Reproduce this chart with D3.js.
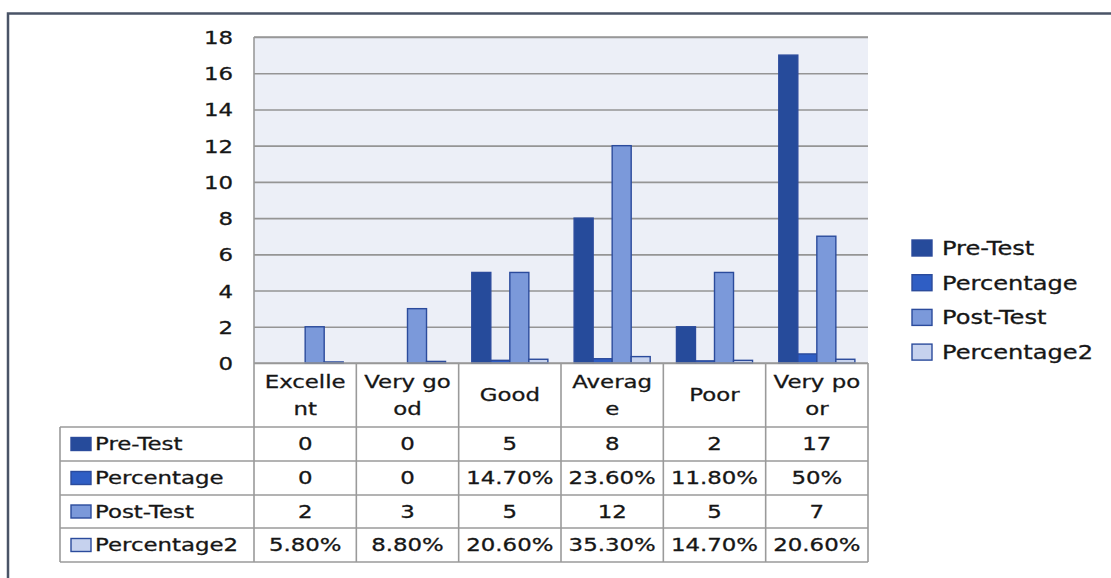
<!DOCTYPE html>
<html>
<head>
<meta charset="utf-8">
<script src="https://cdn.jsdelivr.net/npm/d3@7"></script>
<style>
  html, body { margin: 0; padding: 0; background: #fff; }
  svg { display: block; }
  text { font-family: "DejaVu Sans", Verdana, sans-serif; fill: #161616; stroke: #161616; stroke-width: 0.3px; }
</style>
</head>
<body>
<svg id="chart" width="1111" height="578"></svg>
<script>
// data
const categories = ['Excellent', 'Very good', 'Good', 'Average', 'Poor', 'Very poor']
const headerLines = [['Excelle', 'nt'], ['Very go', 'od'], ['Good'], ['Averag', 'e'], ['Poor'], ['Very po', 'or']]
const seriesNames = ['Pre-Test', 'Percentage', 'Post-Test', 'Percentage2']
const preTest = [0, 0, 5, 8, 2, 17]
const percentage = [0, 0, 0.147, 0.236, 0.118, 0.5]
const postTest = [2, 3, 5, 12, 5, 7]
const percentage2 = [0.058, 0.088, 0.206, 0.353, 0.147, 0.206]
const preTestText = ['0', '0', '5', '8', '2', '17']
const percentageText = ['0', '0', '14.70%', '23.60%', '11.80%', '50%']
const postTestText = ['2', '3', '5', '12', '5', '7']
const percentage2Text = ['5.80%', '8.80%', '20.60%', '35.30%', '14.70%', '20.60%']
const yTicks = [0, 2, 4, 6, 8, 10, 12, 14, 16, 18]

const colors = ['#264b9b', '#2f5ec4', '#7b99da', '#c6d2ee']
const seriesValues = [preTest, percentage, postTest, percentage2]
const seriesText = [preTestText, percentageText, postTestText, percentage2Text]

const plot = { left: 254, right: 868, top: 37, bottom: 363 }
const rowEdges = [363, 427, 461, 495, 528, 562]
const tableLeft = 60
const stretch = 1.27

const svg = d3.select('#chart')

const x = d3.scaleBand().domain(categories).range([plot.left, plot.right])
const x1 = d3.scaleBand().domain(seriesNames).range([0, x.bandwidth()]).paddingOuter(0.69)
const y = d3.scaleLinear().domain([0, 18]).range([plot.bottom, plot.top])

// place a text horizontally stretched like the source picture
function putText (g, str, px, py, anchor, size) {
  return g.append('text')
    .attr('transform', `translate(${px},${py}) scale(${stretch},1)`)
    .attr('text-anchor', anchor)
    .attr('dy', '0.36em')
    .style('font-size', (size || 18) + 'px')
    .text(str)
}

// outer frame
svg.append('path')
  .attr('d', 'M8,578 V13.5 H1111')
  .attr('fill', 'none')
  .attr('stroke', '#4a5467')
  .attr('stroke-width', 2.5)

// plot background
svg.append('rect')
  .attr('x', plot.left).attr('y', plot.top)
  .attr('width', plot.right - plot.left).attr('height', plot.bottom - plot.top)
  .attr('fill', '#eceff7')

// y axis + gridlines
const yAxis = d3.axisLeft(y)
  .tickValues(yTicks)
  .tickSize(-(plot.right - plot.left))
  .tickSizeOuter(0)

const yG = svg.append('g')
  .attr('transform', `translate(${plot.left},0)`)
  .call(yAxis)
yG.select('.domain').remove()
yG.selectAll('.tick line')
  .attr('stroke', '#959595')
  .attr('stroke-width', 1.6)
yG.selectAll('.tick text')
  .attr('x', null)
  .attr('dy', '0.36em')
  .attr('transform', `translate(-21,0) scale(${stretch},1)`)
  .style('font-size', '18px')
  .style('font-family', '"DejaVu Sans", Verdana, sans-serif')
  .attr('fill', '#161616')

// bars
const groups = svg.append('g').selectAll('g')
  .data(seriesNames)
  .join('g')
  .attr('fill', (d, i) => colors[i])

groups.selectAll('rect')
  .data((name, si) => seriesValues[si].map((v, ci) => ({ name, v, cat: categories[ci] })))
  .join('rect')
  .attr('x', d => x(d.cat) + x1(d.name))
  .attr('y', d => y(d.v))
  .attr('width', x1.bandwidth())
  .attr('height', d => y(0) - y(d.v))
  .attr('stroke', '#2b4b9c')
  .attr('stroke-width', 1.4)

// table grid
const grid = svg.append('g')
  .attr('stroke', '#9a9a9a')
  .attr('stroke-width', 1.6)
  .attr('fill', 'none')

// left axis line continues into table
grid.append('line')
  .attr('x1', plot.left).attr('x2', plot.left)
  .attr('y1', plot.top).attr('y2', rowEdges[rowEdges.length - 1])
grid.append('line')
  .attr('x1', plot.left).attr('x2', plot.right)
  .attr('y1', plot.top).attr('y2', plot.top)

categories.forEach(c => {
  grid.append('line')
    .attr('x1', x(c) + x.bandwidth()).attr('x2', x(c) + x.bandwidth())
    .attr('y1', rowEdges[0]).attr('y2', rowEdges[rowEdges.length - 1])
})
grid.append('line')
  .attr('x1', plot.left).attr('x2', plot.right)
  .attr('y1', rowEdges[0]).attr('y2', rowEdges[0])
rowEdges.slice(1).forEach(ry => {
  grid.append('line')
    .attr('x1', tableLeft).attr('x2', plot.right)
    .attr('y1', ry).attr('y2', ry)
})
grid.append('line')
  .attr('x1', tableLeft).attr('x2', tableLeft)
  .attr('y1', rowEdges[1]).attr('y2', rowEdges[rowEdges.length - 1])

// header labels
const headG = svg.append('g')
categories.forEach((c, i) => {
  const cx = x(c) + x.bandwidth() / 2
  const lines = headerLines[i]
  const mid = (rowEdges[0] + rowEdges[1]) / 2
  if (lines.length === 1) {
    putText(headG, lines[0], cx, mid, 'middle')
  } else {
    putText(headG, lines[0], cx, mid - 13.5, 'middle')
    putText(headG, lines[1], cx, mid + 13.5, 'middle')
  }
})

// table rows
const bodyG = svg.append('g')
seriesNames.forEach((name, si) => {
  const cy = (rowEdges[si + 1] + rowEdges[si + 2]) / 2
  bodyG.append('rect')
    .attr('x', 71).attr('y', cy - 6.5)
    .attr('width', 20).attr('height', 13)
    .attr('fill', colors[si])
    .attr('stroke', '#2b4b9c')
    .attr('stroke-width', 1.4)
  putText(bodyG, name, 95, cy, 'start')
  seriesText[si].forEach((t, ci) => {
    putText(bodyG, t, x(categories[ci]) + x.bandwidth() / 2, cy, 'middle')
  })
})

// legend
const legend = svg.append('g')
seriesNames.forEach((name, i) => {
  const cy = 248 + i * 34.7
  legend.append('rect')
    .attr('x', 912).attr('y', cy - 8)
    .attr('width', 20).attr('height', 16)
    .attr('fill', colors[i])
    .attr('stroke', '#2b4b9c')
    .attr('stroke-width', 1.4)
  putText(legend, name, 942, cy, 'start', 19)
})
</script>
</body>
</html>
